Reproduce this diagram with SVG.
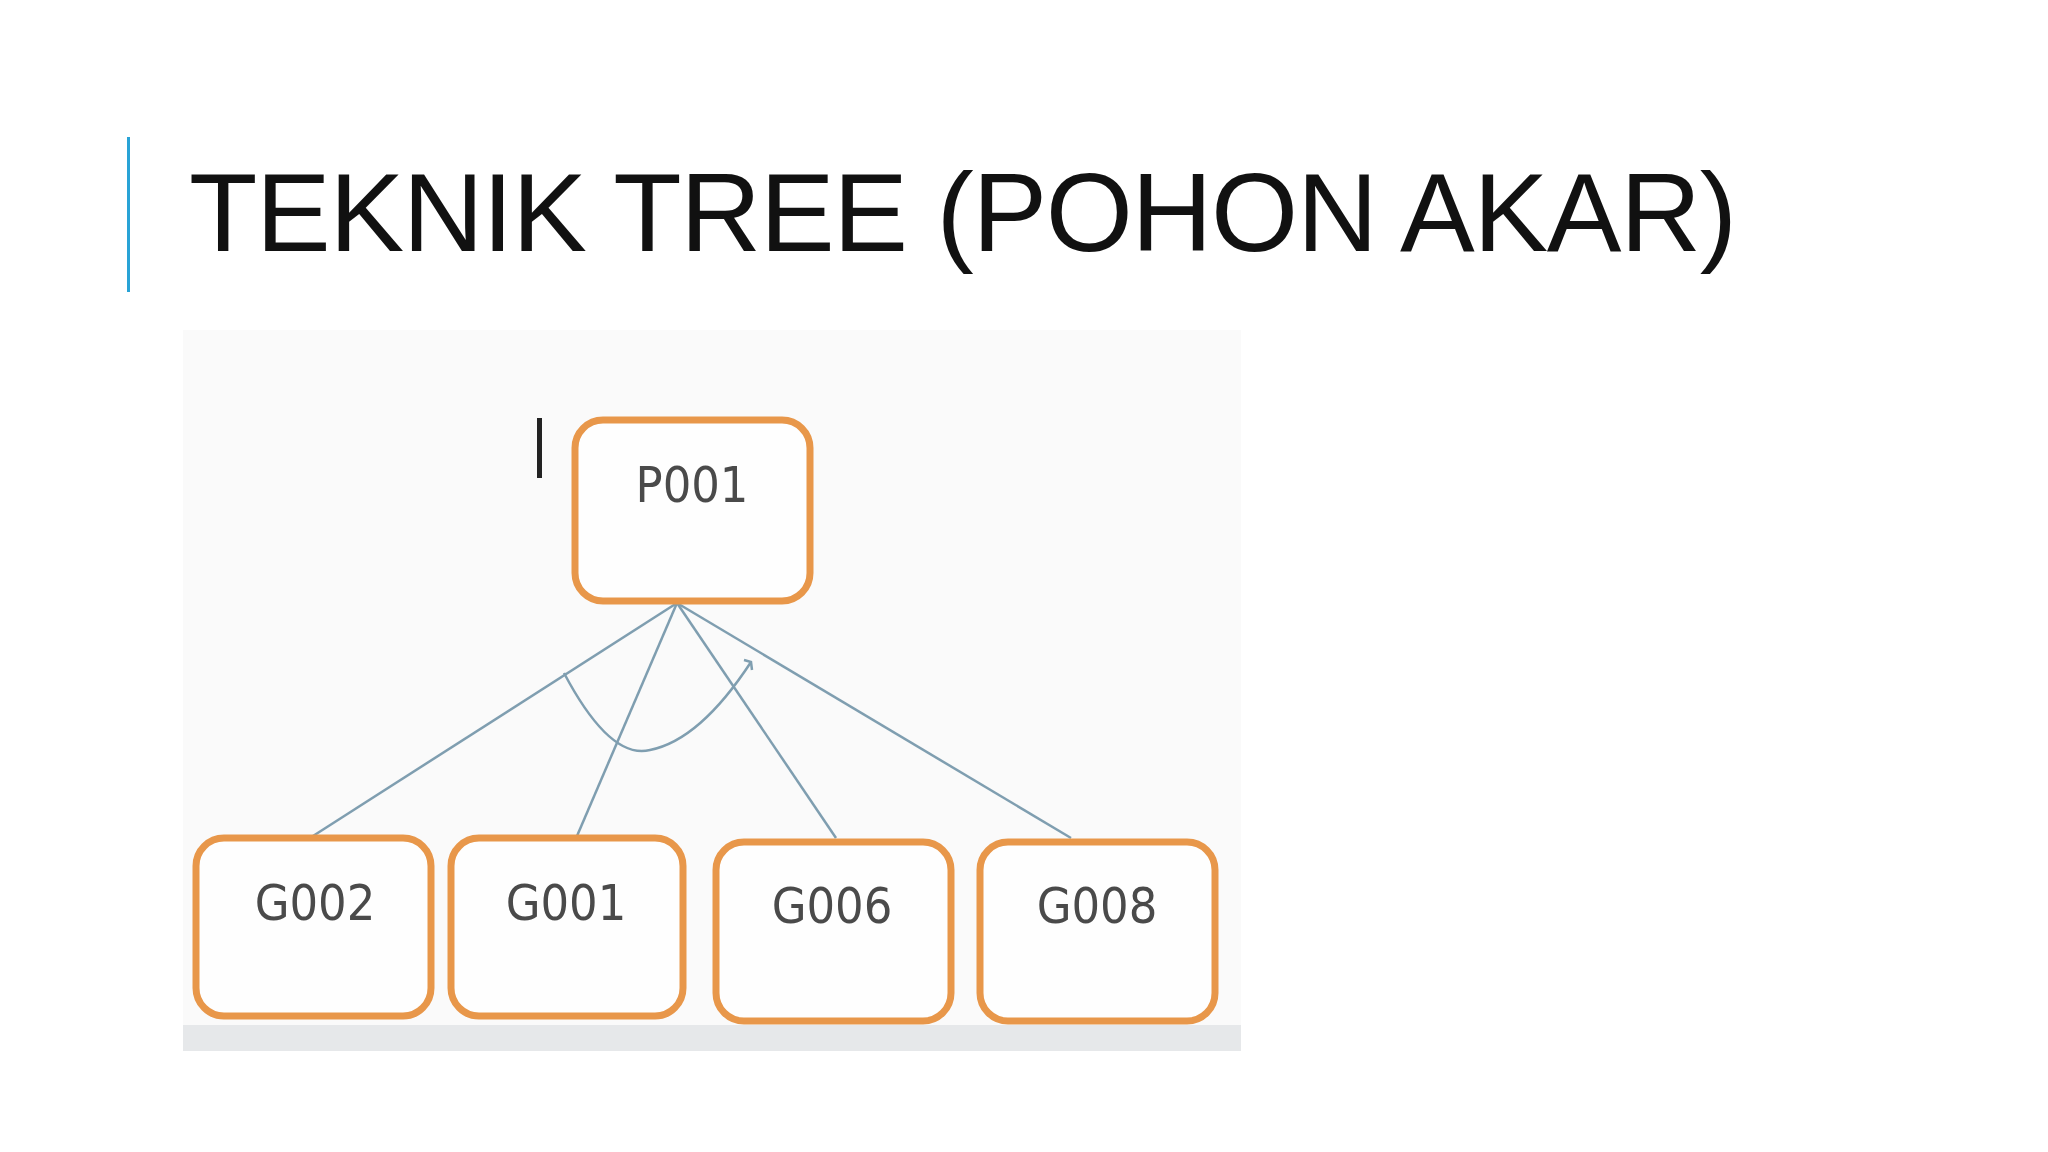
<svg xmlns="http://www.w3.org/2000/svg" width="2048" height="1152" viewBox="0 0 2048 1152">
<style>
.box{fill:#fefefe;stroke:#e8974a;stroke-width:7}
.lbl{font-family:"DejaVu Sans Condensed","DejaVu Sans",sans-serif;font-size:50px;fill:#4a4a4a;text-anchor:middle}
.con{stroke:#7f9eb0;stroke-width:2.5;fill:none}
</style>
<rect width="2048" height="1152" fill="#fff"/>
<rect x="127" y="137" width="3" height="155" fill="#29a3d6"/>
<text x="189" y="251" font-family="Liberation Sans, Arial, sans-serif" font-size="112" fill="#111" textLength="1548">TEKNIK TREE (POHON AKAR)</text>
<rect x="183" y="330" width="1058" height="721" fill="#fafafa"/>
<rect x="183" y="1025" width="1058" height="26" fill="#e6e8ea"/>
<rect x="537" y="418" width="5" height="60" fill="#222"/>
<g id="connectors">
<path class="con" d="M677 603 L313 836"/>
<path class="con" d="M677 603 L577 836"/>
<path class="con" d="M677 603 L836 838"/>
<path class="con" d="M677 603 L1071 838"/>
<path class="con" d="M564 673 Q610 760 650 750 Q700 740 751 662"/>
<path class="con" d="M744 660 L751 662 L752 670"/>
</g>
<g id="P001"><rect class="box" x="575" y="420" width="235" height="181" rx="28"/><text class="lbl" x="692" y="502">P001</text></g>
<g id="G002"><rect class="box" x="196" y="838" width="235" height="178" rx="28"/><text class="lbl" x="315" y="920" font-size="54">G002</text></g>
<g id="G001"><rect class="box" x="451" y="838" width="232" height="178" rx="28"/><text class="lbl" x="566" y="920" font-size="54">G001</text></g>
<g id="G006"><rect class="box" x="716" y="842" width="235" height="179" rx="28"/><text class="lbl" x="832" y="923" font-size="54">G006</text></g>
<g id="G008"><rect class="box" x="980" y="842" width="235" height="179" rx="28"/><text class="lbl" x="1097" y="923" font-size="54">G008</text></g>
</svg>
